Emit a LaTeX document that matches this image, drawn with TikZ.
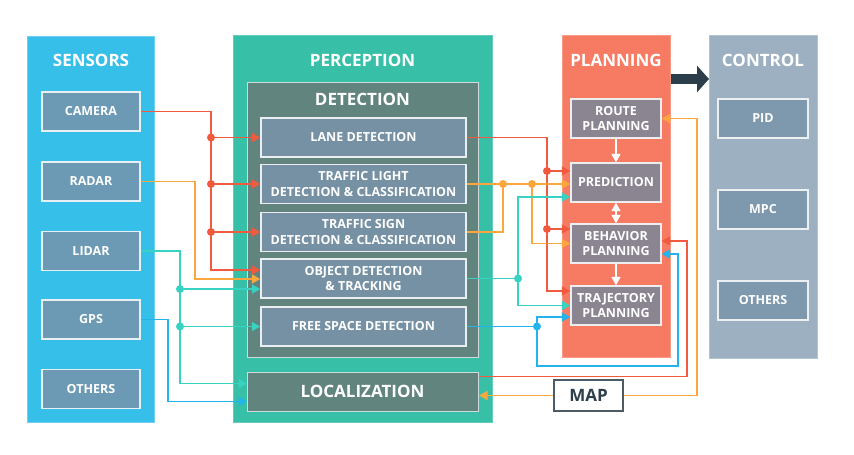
\documentclass[tikz,border=0pt]{standalone}
\usepackage{fontspec}
\setmainfont{Open Sans}
\usetikzlibrary{arrows.meta,calc}
\definecolor{cSens}{HTML}{36BFE8}
\definecolor{cSensB}{HTML}{6FD0F0}
\definecolor{cSBox}{HTML}{6C9AB5}
\definecolor{cPerc}{HTML}{38BFA7}
\definecolor{cPercB}{HTML}{62CDBA}
\definecolor{cDet}{HTML}{62847F}
\definecolor{cDBox}{HTML}{7691A4}
\definecolor{cPlan}{HTML}{F77B62}
\definecolor{cPlanB}{HTML}{F99A86}
\definecolor{cPBox}{HTML}{8B8592}
\definecolor{cCtrl}{HTML}{9CB0C1}
\definecolor{cCtrlB}{HTML}{B3C3D0}
\definecolor{cCBox}{HTML}{7E98AD}
\definecolor{cDark}{HTML}{2D3E4B}
\definecolor{cRed}{HTML}{F15A3F}
\definecolor{cOr}{HTML}{FBA73E}
\definecolor{cTeal}{HTML}{37D2C2}
\definecolor{cBlue}{HTML}{22B4EA}
\tikzset{
  >={Triangle[length=8.5pt,width=9pt]},
  container/.style={line width=1pt, inner sep=0pt, anchor=north west},
  ttl/.style={text=white, font=\bfseries\fontsize{17}{20}\selectfont, inner sep=0pt},
  sbox/.style={draw=white!85!cSBox, line width=1.4pt, fill=cSBox, text=white, inner sep=0pt,
     minimum width=98, minimum height=39, font=\bfseries\fontsize{12.5}{15.5}\selectfont, align=center},
  dbox/.style={draw=white!85!cDBox, line width=1.4pt, fill=cDBox, text=white, inner sep=0pt,
     minimum width=205, minimum height=39, font=\bfseries\fontsize{12.5}{15.5}\selectfont, align=center},
  pbox/.style={draw=white!85!cPBox, line width=1.4pt, fill=cPBox, text=white, inner sep=0pt,
     minimum width=90, minimum height=39, font=\bfseries\fontsize{12.5}{15.5}\selectfont, align=center},
  cbox/.style={draw=white!85!cCBox, line width=1.4pt, fill=cCBox, text=white, inner sep=0pt,
     minimum width=90, minimum height=39, font=\bfseries\fontsize{12.5}{15.5}\selectfont, align=center},
  rl/.style={draw=cRed, line width=1.9pt},
  ol/.style={draw=cOr, line width=1.9pt},
  tl/.style={draw=cTeal, line width=1.9pt},
  bl/.style={draw=cBlue, line width=1.9pt},
  wl/.style={draw=white, line width=1.5pt},
}
\begin{document}
\begin{tikzpicture}[x=1pt,y=-1pt]
\useasboundingbox[fill=white] (0,0) rectangle (854,455);
% containers
\node[container, draw=cSensB, fill=cSens, minimum width=127, minimum height=386] (sens) at (27,36) {};
\node[container, draw=cPercB, fill=cPerc, minimum width=259, minimum height=387] (perc) at (233,35) {};
\node[container, draw=white!70!cDet, fill=cDet, minimum width=231, minimum height=275] (det) at (247,82) {};
\node[container, draw=white!70!cDet, fill=cDet, minimum width=231, minimum height=39] (loc) at (247,372) {};
\node[container, draw=cPlanB, fill=cPlan, minimum width=108, minimum height=322] (plan) at (562,35) {};
\node[container, draw=cCtrlB, fill=cCtrl, minimum width=108, minimum height=323] (ctrl) at (709,35) {};
% titles
\node[ttl] (tsens) at (91,60) {SENSORS};
\node[ttl] (tperc) at (362.5,60) {PERCEPTION};
\node[ttl] (tplan) at (616,60) {PLANNING};
\node[ttl] (tctrl) at (763,60) {CONTROL};
\node[ttl] (tdet) at (362.5,99) {DETECTION};
\node[ttl] (tloc) at (362.5,391.5) {LOCALIZATION};
% sensors
\node[sbox] (cam) at (91,111.5) {CAMERA};
\node[sbox] (radar) at (91,181.5) {RADAR};
\node[sbox] (lidar) at (91,251) {LIDAR};
\node[sbox] (gps) at (91,319.5) {GPS};
\node[sbox] (soth) at (91,389) {OTHERS};
% detection
\node[dbox] (lane) at (363.5,137.5) {LANE DETECTION};
\node[dbox] (tlight) at (363.5,184) {TRAFFIC LIGHT\\DETECTION \& CLASSIFICATION};
\node[dbox] (tsign) at (363.5,232) {TRAFFIC SIGN\\DETECTION \& CLASSIFICATION};
\node[dbox] (obj) at (363.5,278.5) {OBJECT DETECTION\\\& TRACKING};
\node[dbox] (fs) at (363.5,326.5) {FREE SPACE DETECTION};
% planning
\node[pbox] (route) at (616,118.5) {ROUTE\\PLANNING};
\node[pbox] (pred) at (616,182.5) {PREDICTION};
\node[pbox] (beh) at (616,243.5) {BEHAVIOR\\PLANNING};
\node[pbox] (traj) at (616,305.5) {TRAJECTORY\\PLANNING};
% control
\node[cbox] (pid) at (763,118.5) {PID};
\node[cbox] (mpc) at (763,209.5) {MPC};
\node[cbox] (coth) at (763,300.5) {OTHERS};
% map
\node[draw=cDark!85, line width=1.4pt, fill=white, minimum width=69, minimum height=31, inner sep=0pt,
      text=cDark, font=\bfseries\fontsize{17}{20}\selectfont] (map) at (588.5,395.5) {MAP};
% junction x positions
\coordinate (rx) at (211,0);
\coordinate (ox) at (195,0);
\coordinate (tx) at (180,0);
\coordinate (bx) at (168,0);
\coordinate (rx2) at (547,0);
\coordinate (ox2) at (503,0);
\coordinate (ox3) at (532,0);
\coordinate (tx2) at (518,0);
\coordinate (bx2) at (537,0);
\coordinate (bxr) at (678,0);
\coordinate (rxr) at (687,0);
\coordinate (oxr) at (697,0);
\coordinate (bbot) at (0,366);
% left: camera (red)
\draw[rl,->] (cam.east) -| ($(rx |- obj.west)+(0,-8.5)$) -- ($(obj.west)+(0,-8.5)$);
\draw[rl,->] (rx |- lane.west) -- (lane.west);
\draw[rl,->] (rx |- tlight.west) -- (tlight.west);
\draw[rl,->] (rx |- tsign.west) -- (tsign.west);
\fill[cRed] (rx |- lane.west) circle (4) (rx |- tlight.west) circle (4) (rx |- tsign.west) circle (4);
% radar (orange)
\draw[ol,->] (radar.east) -| ($(ox |- obj.west)+(0,0.5)$) -- ($(obj.west)+(0,0.5)$);
% lidar (teal)
\draw[tl,->] (lidar.east) -| ($(tx |- loc.west)+(0,-8.5)$) -- ($(loc.west)+(0,-8.5)$);
\draw[tl,->] ($(tx |- obj.west)+(0,10.5)$) -- ($(obj.west)+(0,10.5)$);
\draw[tl,->] (tx |- fs.west) -- (fs.west);
\fill[cTeal] ($(tx |- obj.west)+(0,10.5)$) circle (4) (tx |- fs.west) circle (4);
% gps (blue)
\draw[bl,->] (gps.east) -| ($(bx |- loc.west)+(0,9.5)$) -- ($(loc.west)+(0,9.5)$);
% right: lane (red)
\draw[rl,->] (lane.east) -| ($(rx2 |- traj.west)+(0,-14.5)$) -- ($(traj.west)+(0,-14.5)$);
\draw[rl,->] ($(rx2 |- pred.west)+(0,-11.5)$) -- ($(pred.west)+(0,-11.5)$);
\draw[rl,->] ($(rx2 |- beh.west)+(0,-14.5)$) -- ($(beh.west)+(0,-14.5)$);
\fill[cRed] ($(rx2 |- pred.west)+(0,-11.5)$) circle (4) ($(rx2 |- beh.west)+(0,-14.5)$) circle (4);
% traffic light / sign (orange)
\draw[ol,->] (tlight.east) -- (tlight.east -| pred.west);
\draw[ol] (tsign.east) -| (ox2 |- tlight.east);
\draw[ol,->] (ox3 |- tlight.east) |- (beh.west);
\fill[cOr] (ox2 |- tlight.east) circle (4) (ox3 |- tlight.east) circle (4);
% object (teal)
\draw[tl] (obj.east) -- (tx2 |- obj.east);
\draw[tl,->] (tx2 |- obj.east) |- ($(pred.west)+(0,14.5)$);
\draw[tl,->] (tx2 |- obj.east) |- (traj.west);
\fill[cTeal] (tx2 |- obj.east) circle (4);
% free space (blue)
\draw[bl] (fs.east) -- (bx2 |- fs.east);
\draw[bl,->] (bx2 |- fs.east) |- ($(traj.west)+(0,11.5)$);
\draw[bl,->] (bx2 |- fs.east) |- (bxr |- bbot) |- ($(beh.east)+(0,10.5)$);
\fill[cBlue] (bx2 |- fs.east) circle (4);
% localization (red)
\draw[rl,->] ($(loc.east)+(0,-15.5)$) -| ($(rxr |- beh.east)+(0,-2.5)$) -- ($(beh.east)+(0,-2.5)$);
% map (orange)
\draw[ol,->] (map.east) -| (oxr |- route.east) -- (route.east);
\draw[ol,->] (map.west) -- (map.west -| loc.east);
% planning internal
\draw[wl,->] (route) -- (pred);
\draw[wl,<->] (pred) -- (beh);
\draw[wl,->] (beh) -- (traj);
% planning to control
\draw[cDark, line width=10pt, -{Triangle[length=12pt,width=26pt]}] ($(plan.north east)+(0,44)$) -- ($(plan.north east -| ctrl.west)+(0,44)$);
\end{tikzpicture}
\end{document}
